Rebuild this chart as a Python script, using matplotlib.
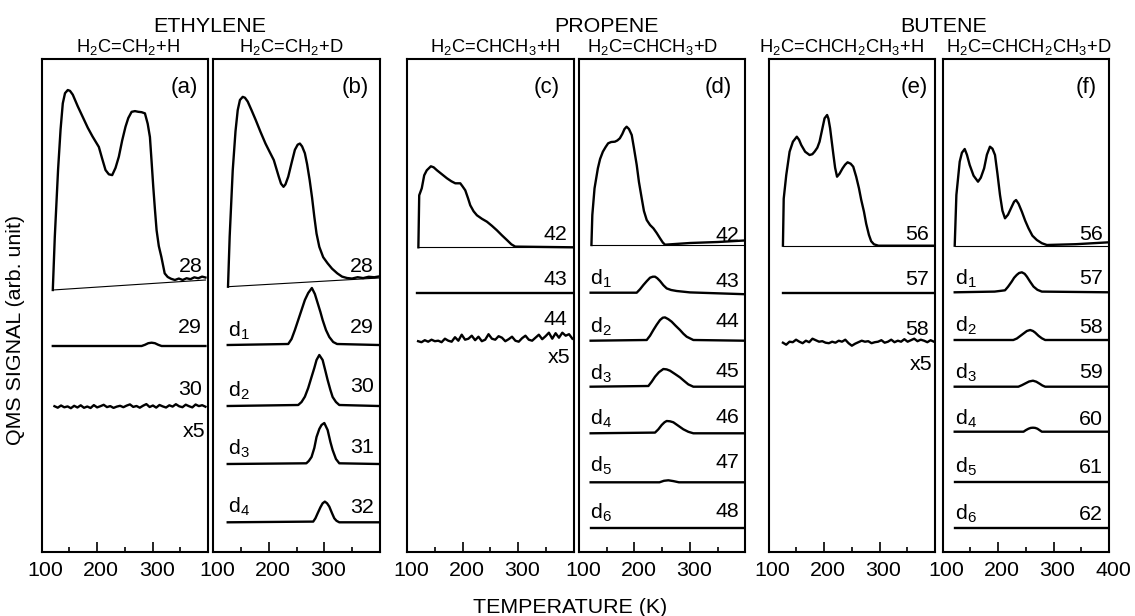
import numpy as np
import matplotlib
matplotlib.use("Agg")
import matplotlib.pyplot as plt
import matplotlib.transforms as mtransforms

plt.rcParams['font.family'] = ['Liberation Sans', 'DejaVu Sans']
plt.rcParams['mathtext.default'] = 'regular'

# ---------------------------------------------------------------- data
# temperatures (K) and QMS signal (arb. unit)
group_titles = ["ETHYLENE", "PROPENE", "BUTENE"]
panel_titles = [r"H$_2$C=CH$_2$+H", r"H$_2$C=CH$_2$+D",
                r"H$_2$C=CHCH$_3$+H", r"H$_2$C=CHCH$_3$+D",
                r"H$_2$C=CHCH$_2$CH$_3$+H", r"H$_2$C=CHCH$_2$CH$_3$+D"]
panel_letters = ["(a)", "(b)", "(c)", "(d)", "(e)", "(f)"]

# (a) ethylene + H
a28_T = [120, 123.6, 129.5, 134, 138, 142, 147, 151, 156, 165, 174, 183, 191.5, 203, 209,
         215, 221, 227, 233, 239, 245, 251, 256, 262, 268, 274, 280, 286, 291, 295, 298,
         301, 304, 307, 311, 315.6, 321.6, 327, 333, 340, 347, 354, 361, 368, 375, 382, 389, 395]
a28_S = [0, 53, 120, 160, 186, 196, 199, 198, 194, 182, 171, 160, 151, 140, 128,
         116.5, 112, 111, 118, 129, 145, 158.5, 167, 173, 173.5, 172.6, 172, 170.6, 160, 146.6, 122,
         96.7, 74, 53, 37, 26, 9.3, 5.5, 3.5, 2.0, 3.2, 1.5, 3.0, 1.8, 3.4, 2.2, 3.6, 2.5]
a29_T = [120, 280, 286, 292, 298, 304, 310, 316, 395]
a29_S = [0, 0, 1.2, 2.8, 3.3, 2.8, 1.2, 0, 0]
a30_S = [0.5, -1.0, 1.2, -0.6, 0.3, -1.5, 0.9, -0.8, 1.4, -1.1, 0.2, -1.3, 1.6, -0.7, 0.5,
         1.9, -0.4, 0.6, -1.2, 0.1, 0.9, -0.5, 1.1, 2.3, -0.2, 0.7, -1.0, 1.0, 2.6, -0.3,
         1.2, -0.9, 1.7, 0.3, -0.8, 1.4, 0.1, 2.5, 0.4, -0.5, 2.0, 0.5, -0.7, 2.2, 0.6, 1.5, 0.0]

# (b) ethylene + D
b28_T = [126.5, 129.5, 135, 140, 144, 148, 153, 157, 162, 169, 176.5, 185, 194, 201, 209, 218,
         222, 226.5, 230, 235, 241, 247, 252, 256, 260, 265, 269, 273.6, 278, 282, 286, 291,
         298, 306, 314, 323.5, 332, 341, 350, 360, 370, 380, 390, 398]
b28_S = [0, 50, 116, 155, 176, 186, 189, 188, 184, 175, 165, 153, 141, 133, 124, 107,
         100, 96.7, 99, 106.5, 120, 133, 138, 139, 136, 129, 118, 102, 84, 65, 48, 34.6,
         24, 17.6, 12, 7, 3.5, 1.8, 1.0, 2.0, 0.8, 1.8, 1.0, 1.5]
b29_T = [126, 235, 241, 247, 253, 259, 265, 271, 277.6, 283, 288, 293, 297, 303, 309, 316, 323, 398]
b29_S = [0, 1, 6, 15, 25, 35, 45, 52, 57, 51, 42, 33, 25, 15, 8, 3, 1, 0]
b30_T = [126, 253, 259, 265, 271, 277, 282, 286, 291, 297, 302, 306, 311, 315, 321, 327, 398]
b30_S = [0, 1, 4, 9.3, 18, 29, 38, 46, 51, 46, 35, 26, 16, 9, 4, 1, 0]
b31_T = [126, 267.6, 272, 277, 282, 286, 291, 295, 300, 306, 311, 315, 321, 327, 398]
b31_S = [0, 0.7, 3, 7, 16, 27, 35, 39, 41, 34, 22, 14, 5, 0.7, 0]
b32_T = [126, 280, 284, 288, 293, 297, 301, 305, 309, 314, 318, 322, 327, 398]
b32_S = [0, 0.7, 4, 9, 15, 19, 20.7, 19, 15.7, 9, 4, 1.5, 0, 0]

# (c) propene + H
c42_T = [120.5, 122, 126.6, 131, 135.6, 143, 148, 154, 163, 172, 180, 187, 196, 200, 205,
         210, 214, 220, 226, 235, 244, 253, 262, 271, 280, 288, 295, 398]
c42_S = [0, 52, 59, 72, 77, 81, 80, 77, 73, 69, 66, 64, 64, 61, 57,
         49, 42, 36, 32, 28.5, 25.6, 21.5, 17, 12, 7.3, 3, 0.7, 0]
c43_T = [118, 398]
c43_S = [0, 0]
c44_S = [0.5, -0.5, 1.5, 0.0, 2.0, 0.5, 1.0, -0.5, 3.0, 1.0, 0.0, 4.5, 1.0, 7.0, 2.0, 3.0,
         6.0, 1.5, 5.0, 0.5, 2.0, 7.5, 3.0, 2.0, 5.5, 4.0, 0.5, 2.5, 5.0, 1.0, 0.0, 3.5,
         6.0, 2.0, 1.0, 4.0, 7.0, 2.5, 5.5, 9.0, 3.0, 8.5, 4.0, 9.0, 6.0, 7.5, 3.0]

# (d) propene + D
d42_T = [122.4, 124, 128, 134, 138, 143, 148, 152.5, 158, 164.6, 169, 173.6, 178, 182, 185.8,
         190, 195, 199, 204, 208, 213, 217, 222, 228, 234, 240, 246, 251, 255, 300, 350, 398]
d42_S = [0, 30, 56.7, 76.7, 86, 93.3, 98, 101.7, 103, 103.3, 104.5, 106.7, 111, 116, 118.3,
         116, 110, 97, 80, 63, 46.7, 34, 25, 20, 16.7, 12, 6.7, 2.5, 0.3, 2, 3, 4.5]
d43_T = [121, 204, 210, 216, 222, 228, 233, 237, 241, 246, 252, 258, 266, 276, 300, 398]
d43_S = [0, 0, 3.5, 7.7, 11.5, 15, 16, 16, 14.5, 11.7, 7.5, 4.3, 2.7, 1.7, 0.3, -1.5]
d44_T = [121, 222, 228, 234, 240, 246, 251, 255, 261, 267, 274, 282, 288, 294, 306, 398]
d44_S = [0, 0.7, 5, 10.7, 16, 20.7, 23, 23.3, 21.5, 19, 15, 10.7, 7, 4, 0.7, 0]
d45_T = [121, 225, 231, 237, 244, 252, 258, 264, 273, 282, 290, 297, 306, 398]
d45_S = [0, 0.7, 5, 10, 14.5, 17.7, 17.3, 16, 12.7, 9.3, 5.5, 2.3, 0, 0]
d46_T = [121, 237, 243, 249, 254, 258, 264, 270, 279, 288, 297, 306, 398]
d46_S = [0, 0.7, 4, 8.3, 11, 12.3, 12, 11, 7.5, 4, 1.5, 0, 0]
d47_T = [121, 245, 253, 261, 270, 280, 398]
d47_S = [0, 0, 1.5, 2, 1.2, 0, 0]
d48_T = [121, 398]
d48_S = [0, 0]

# (e) butene + H
e56_T = [126, 127.4, 132, 138, 144, 151, 155, 159, 166, 174, 179, 183, 188, 192, 197, 201,
         205.6, 208, 211, 214, 217, 220, 223.5, 228, 233.5, 238, 242.5, 248, 252.7, 258, 263,
         267, 272, 276, 281, 285, 290, 298, 398]
e56_S = [0, 47, 70.7, 94, 104, 109, 106, 100.7, 94, 90.7, 91.5, 94, 98, 104, 117, 127.4,
         130.7, 127, 117.4, 104, 90.7, 78, 69, 72, 77.4, 81, 83.4, 82, 79, 69, 57.4,
         46, 34, 22, 10.7, 4.5, 1.4, 0, 0]
e57_T = [126, 398]
e57_S = [0, 0]
e58_S = [0.0, -2.0, 1.0, 0.5, 3.0, 1.0, -0.5, 2.0, 0.5, 4.0, 2.5, 1.0, 1.5, 0.0, -0.5, 1.0,
         0.0, 2.0, 1.0, 3.0, -0.5, -3.0, -1.0, 0.5, 2.0, 1.0, 1.5, -0.5, 0.5, 1.0, 2.5, 0.0,
         1.0, 3.0, 0.5, 2.0, 1.0, 3.5, 1.0, 2.5, 4.0, 1.5, 3.0, 2.0, 0.5, 2.5, 1.0]

# (f) butene + D
f56_T = [122, 125, 131, 135, 140, 144, 149, 156, 164, 169, 175, 180, 185.5, 190, 194.6,
         199, 203.6, 208, 212.6, 218, 224.7, 229, 232.5, 237, 243, 249, 255, 262, 270, 279,
         288, 340, 400]
f56_S = [0, 50.7, 84, 93, 96.7, 91, 80.7, 70, 64, 68, 77.4, 91, 99, 97, 90.7,
         72, 50.7, 35, 27.4, 31, 39, 44, 45.7, 42, 34, 25, 17.4, 10, 5.7, 2.5,
         0.7, 1.5, 3.4]
f57_T = [122, 194, 212.6, 218, 224.7, 229, 233.8, 238, 243, 248, 252, 258, 264, 271, 279, 400]
f57_S = [0, 0.7, 2, 5.5, 10.7, 14.5, 17.4, 19.3, 20, 18.5, 15.7, 10.5, 5.7, 2.5, 0.7, 0]
f58_T = [122, 227.6, 234, 240, 246, 252, 258, 263, 267, 273, 279, 285, 400]
f58_S = [0, 0, 1.5, 4, 6.5, 9, 10, 9, 7.4, 4.2, 1.7, 0, 0]
f59_T = [122, 236.7, 243, 250, 256, 263, 269, 275, 280, 285, 400]
f59_S = [0, 0, 1.5, 3.5, 5.2, 6, 5, 3, 1.2, 0, 0]
f60_T = [122, 246, 250, 255, 259, 263, 267, 271, 275, 279, 400]
f60_S = [0, 0, 1.5, 3, 3.8, 4, 3.8, 3, 1.5, 0, 0]
f61_T = [122, 400]
f61_S = [0, 0]
f62_T = [122, 400]
f62_S = [0, 0]

# sampling grids of the noisy x5 traces
a30_T = np.linspace(123, 395, len(a30_S))
c44_T = np.linspace(120, 398, len(c44_S))
e58_T = np.linspace(126, 398, len(e58_S))

x_ticks = [100, 200, 300, 400]
x_minor = [150, 250, 350]

# ---------------------------------------------------------------- layout (pixels)
W, H, DPI = 1135, 616, 100
TOP, BOT, PW = 59.3, 551.7, 166.5
PH = BOT - TOP

def yd(p):  # pixel row -> data y (pixels above panel bottom)
    return BOT - p

fig = plt.figure(figsize=(W / DPI, H / DPI), dpi=DPI)

panels = [
    dict(left=41.7, lm=10, dl=None, traces=[
        (a28_T, a28_S, 290.0, 280.0, "28", 272.3, None, None, True),
        (a29_T, a29_S, 346.0, 346.0, "29", 333.3, None, None, False),
        (a30_T, a30_S, 406.7, 406.7, "30", 395.0, None, None, False)],
        x5=436.7),
    dict(left=213.3, lm=11, dl=15, traces=[
        (b28_T, b28_S, 286.7, 278.0, "28", 272.0, None, None, True),
        (b29_T, b29_S, 345.0, 345.0, "29", 333.0, r"d$_1$", 336.7, False),
        (b30_T, b30_S, 406.0, 406.0, "30", 391.7, r"d$_2$", 396.7, False),
        (b31_T, b31_S, 464.0, 464.0, "31", 453.3, r"d$_3$", 455.0, False),
        (b32_T, b32_S, 522.3, 522.3, "32", 513.3, r"d$_4$", 512.7, False)],
        x5=None),
    dict(left=407.0, lm=14, dl=None, traces=[
        (c42_T, c42_S, 247.3, 247.3, "42", 240.0, None, None, True),
        (c43_T, c43_S, 292.7, 292.7, "43", 285.0, None, None, False),
        (c44_T, c44_S, 341.7, 341.7, "44", 325.0, None, None, False)],
        x5=363.3),
    dict(left=579.0, lm=14, dl=11, traces=[
        (d42_T, d42_S, 245.0, 245.0, "42", 241.0, None, None, True),
        (d43_T, d43_S, 292.7, 292.7, "43", 286.7, r"d$_1$", 285.0, False),
        (d44_T, d44_S, 340.7, 340.7, "44", 326.7, r"d$_2$", 332.7, False),
        (d45_T, d45_S, 386.7, 386.7, "45", 376.7, r"d$_3$", 380.0, False),
        (d46_T, d46_S, 433.3, 433.3, "46", 423.3, r"d$_4$", 425.0, False),
        (d47_T, d47_S, 482.3, 482.3, "47", 468.3, r"d$_5$", 471.7, False),
        (d48_T, d48_S, 528.0, 528.0, "48", 516.7, r"d$_6$", 518.3, False)],
        x5=None),
    dict(left=768.5, lm=7, dl=None, traces=[
        (e56_T, e56_S, 245.7, 245.7, "56", 240.0, None, None, True),
        (e57_T, e57_S, 293.3, 293.3, "57", 285.0, None, None, False),
        (e58_T, e58_S, 342.7, 342.7, "58", 335.0, None, None, False)],
        x5=370.0),
    dict(left=942.5, lm=12, dl=12.5, traces=[
        (f56_T, f56_S, 245.7, 245.7, "56", 240.0, None, None, True),
        (f57_T, f57_S, 292.3, 292.3, "57", 284.3, r"d$_1$", 285.0, False),
        (f58_T, f58_S, 340.0, 340.0, "58", 333.3, r"d$_2$", 331.7, False),
        (f59_T, f59_S, 386.7, 386.7, "59", 378.3, r"d$_3$", 378.3, False),
        (f60_T, f60_S, 431.7, 431.7, "60", 425.0, r"d$_4$", 425.0, False),
        (f61_T, f61_S, 481.7, 481.7, "61", 472.7, r"d$_5$", 472.7, False),
        (f62_T, f62_S, 527.7, 527.7, "62", 520.0, r"d$_6$", 520.0, False)],
        x5=None),
]

FS = 15.4
LW = 1.7
for i, pnl in enumerate(panels):
    L = pnl['left']
    ax = fig.add_axes([L / W, (H - BOT) / H, PW / W, PH / H])
    ax.set_xlim(100, 400)
    ax.set_ylim(0, PH)
    ax.set_yticks([])
    for s in ax.spines.values():
        s.set_linewidth(1.5)
    ax.set_xticks(x_ticks)
    ax.set_xticks(x_minor, minor=True)
    if i == 5:
        ax.set_xticklabels([str(t) for t in x_ticks])
    else:
        ax.set_xticklabels([str(t) for t in x_ticks[:3]] + [""])
    ax.tick_params(axis='x', which='major', direction='in', length=7.5, width=1.2,
                   labelsize=FS, pad=6.5, top=False)
    ax.tick_params(axis='x', which='minor', direction='in', length=3.8, width=1.2, top=False)
    off = mtransforms.ScaledTranslation(4 / DPI, 0, fig.dpi_scale_trans)
    for lab in ax.get_xticklabels():
        lab.set_transform(lab.get_transform() + off)

    right_tr = mtransforms.blended_transform_factory(ax.transAxes, ax.transData)
    for (T, S, b0, b1, mass, mass_y, dlab, dlab_y, thin) in pnl['traces']:
        T = np.asarray(T, float)
        S = np.asarray(S, float)
        t0, t1 = T[0], T[-1]
        base = yd(b0) + (yd(b1) - yd(b0)) * (T - t0) / (t1 - t0)
        ax.plot(T, base + S, color='black', lw=LW, solid_joinstyle='round')
        if thin:
            ax.plot([t0, t1], [yd(b0), yd(b1)], color='black', lw=0.8)
        ax.text(1, yd(mass_y), mass, fontsize=FS, ha='right', va='baseline',
                transform=right_tr + mtransforms.ScaledTranslation(-6 / DPI, 0, fig.dpi_scale_trans))
        if dlab is not None:
            ax.text(0, yd(dlab_y), dlab, fontsize=FS, ha='left', va='baseline',
                    transform=right_tr + mtransforms.ScaledTranslation(pnl['dl'] / DPI, 0, fig.dpi_scale_trans))
    if pnl['x5'] is not None:
        ax.text(1, yd(pnl['x5']), "x5", fontsize=FS, ha='right', va='baseline',
                transform=right_tr + mtransforms.ScaledTranslation(-3 / DPI, 0, fig.dpi_scale_trans))
    ax.text(1, yd(88), panel_letters[i], fontsize=FS + 0.6, ha='right', va='center',
            transform=right_tr + mtransforms.ScaledTranslation(-pnl['lm'] / DPI, 0, fig.dpi_scale_trans))


def ftext(x, y, s, **kw):
    fig.text(x / W, 1 - y / H, s, **kw)


group_x = [210, 606, 944]
for gx, g in zip(group_x, group_titles):
    ftext(gx, 31.7, g, fontsize=FS, ha='center', va='baseline')
sub_x = [127.5, 290.8, 495, 653, 841.7, 1029]
for sx, st in zip(sub_x, panel_titles):
    ftext(sx, 51.7, st, fontsize=13.2, ha='center', va='baseline')

ftext(570, 613.3, "TEMPERATURE (K)", fontsize=FS, ha='center', va='baseline')
ftext(16, 330, "QMS SIGNAL (arb. unit)", fontsize=FS, ha='center', va='center', rotation=90)

fig.savefig("out.png", dpi=DPI)
